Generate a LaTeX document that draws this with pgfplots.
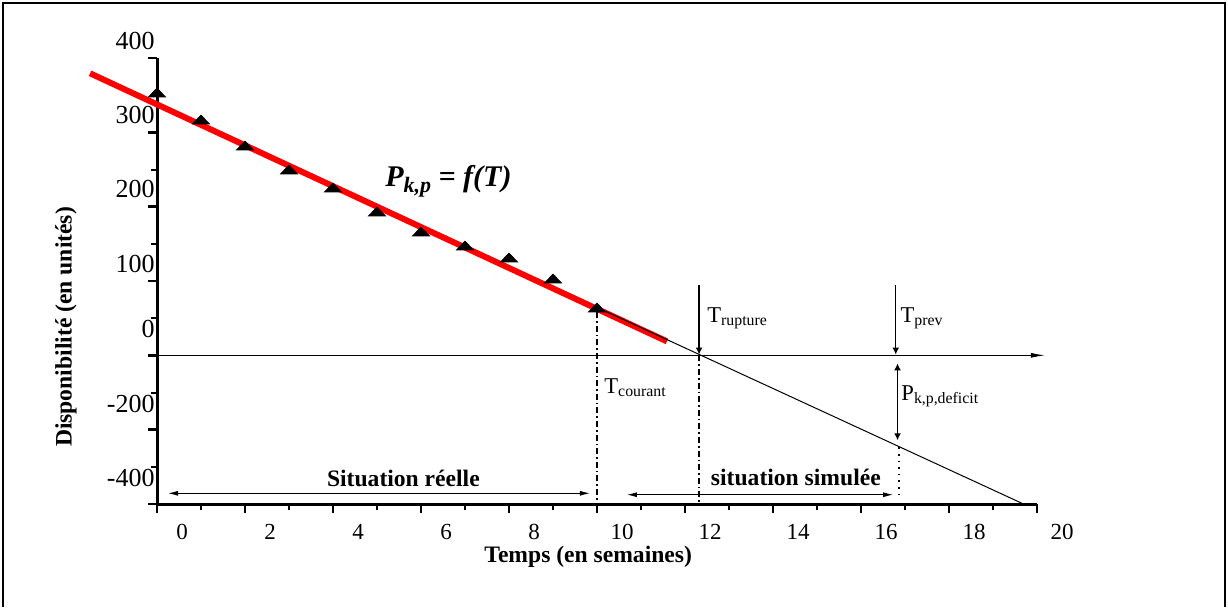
\documentclass[border=0pt]{standalone}
\usepackage{fontspec}
\setmainfont{Liberation Serif}
\usepackage{pgfplots}
\pgfplotsset{compat=1.18}
\usetikzlibrary{arrows.meta}

% measured availability (triangles), one point per week
\pgfplotstableread{
t  p
0  351.6
1  315.2
2  280.3
3  248.0
4  223.8
5  191.5
6  164.6
7  145.7
8  129.6
9  101.3
10 62.3
}\mesures

\begin{document}
\begin{tikzpicture}
\useasboundingbox (0,0) rectangle (614pt,303.5pt);
\draw[line width=1pt] (1.5pt,0) -- (1.5pt,302pt) -- (612.5pt,302pt) -- (612.5pt,0);
\begin{axis}[
  at={(78.5pt,51.5pt)}, anchor=south west,
  scale only axis, width=440pt, height=223pt,
  xmin=0, xmax=20, ymin=-200, ymax=400,
  axis lines=left,
  axis line style={-, line width=1.5pt},
  clip=false,
  tick align=outside,
  xtick={0,2,...,20}, minor x tick num=1,
  ytick={-200,-100,...,400}, minor y tick num=1,
  xticklabels={0,2,4,6,8,10,12,14,16,18,20},
  yticklabels={\raisebox{8.5pt}{-400},\raisebox{8.5pt}{-200},\raisebox{8.5pt}{0},100,200,300,400},
  xticklabel style={anchor=north, inner sep=0pt, xshift=12.5pt, yshift=-5.5pt, font=\fontsize{11.5}{13}\selectfont},
  yticklabel style={anchor=east, inner sep=0pt, xshift=3.5pt, yshift=8.75pt, font=\fontsize{13}{15}\selectfont},
  major tick length=4.5pt, minor tick length=3pt,
  major tick style={line width=1.2pt, black},
  minor tick style={line width=1pt, black},
  xlabel={Temps (en semaines)},
  ylabel={Disponibilité (en unités)},
  label style={font=\fontsize{11.8}{14}\selectfont\bfseries, inner sep=0pt},
  xlabel style={at={(axis description cs:0.49,-0.0942)}, anchor=north},
  ylabel style={at={(axis description cs:-0.0909,0.397)}, anchor=south},
]
% zero line with arrow
\addplot[black, line width=0.5pt, -{Latex[length=7pt,width=2.5pt]}] coordinates {(0,0) (20.18,0)};
% measured points
\addplot[only marks, mark=triangle*, mark size=4.9pt, mark options={yscale=0.6, fill=black, draw=black}] table[x=t,y=p] {\mesures};
% fitted trend
\addplot[red, line width=3pt] coordinates {(-1.52,379.4) (11.59,18.8)};
% simulated continuation
\addplot[black, line width=0.5pt] coordinates {(10,64.6) (19.66,-199.1)};

% vertical markers
\draw[line width=0.7pt, dash pattern=on 3pt off 1.5pt on 0.8pt off 1.5pt] (axis cs:10,58) -- (axis cs:10,-200);
\draw[line width=0.7pt, dash pattern=on 3pt off 1.5pt on 0.8pt off 1.5pt] (axis cs:12.32,0) -- (axis cs:12.32,-200);
\draw[line width=0.7pt, dash pattern=on 0.8pt off 2.5pt] (axis cs:16.86,-123.8) -- (axis cs:16.86,-188.3);
\draw[line width=0.7pt, -{Latex[length=3.5pt,width=3.5pt]}] (axis cs:12.32,94.2) -- (axis cs:12.32,1);
\draw[line width=0.7pt, -{Latex[length=3.5pt,width=3.5pt]}] (axis cs:16.79,94.2) -- (axis cs:16.79,1);
\draw[line width=0.7pt, {Latex[length=3.5pt,width=3.5pt]}-{Latex[length=3.5pt,width=3.5pt]}] (axis cs:16.83,-10.8) -- (axis cs:16.83,-114.3);
\draw[line width=0.5pt, {Latex[length=5pt,width=2.5pt]}-{Latex[length=5pt,width=2.5pt]}] (axis cs:0.25,-185.6) -- (axis cs:9.84,-185.6);
\draw[line width=0.5pt, {Latex[length=5pt,width=2.5pt]}-{Latex[length=5pt,width=2.5pt]}] (axis cs:10.68,-187.5) -- (axis cs:16.73,-187.5);

% annotations
\node[anchor=base west, inner sep=0pt, font=\fontsize{11.3}{13}\selectfont] at (axis cs:12.5,44.4) {T\textsubscript{rupture}};
\node[anchor=base west, inner sep=0pt, font=\fontsize{11.3}{13}\selectfont] at (axis cs:16.89,44.4) {T\textsubscript{prev}};
\node[anchor=base west, inner sep=0pt, font=\fontsize{11.3}{13}\selectfont] at (axis cs:10.16,-51.1) {T\textsubscript{courant}};
\node[anchor=base west, inner sep=0pt, font=\fontsize{11.3}{13}\selectfont] at (axis cs:16.91,-60.5) {P\textsubscript{k,p,deficit}};
\node[anchor=base, inner sep=0pt, font=\fontsize{11.8}{14}\selectfont\bfseries] at (axis cs:5.60,-176.2) {Situation réelle};
\node[anchor=base, inner sep=0pt, font=\fontsize{11.8}{14}\selectfont\bfseries] at (axis cs:14.52,-175.5) {situation simulée};
\node[anchor=base west, inner sep=0pt, font=\fontsize{15}{17}\selectfont\bfseries\itshape] at (axis cs:5.18,227.4) {P\raisebox{-3pt}{\fontsize{11}{12}\selectfont k,p} = f(T)};
\end{axis}
\end{tikzpicture}
\end{document}
